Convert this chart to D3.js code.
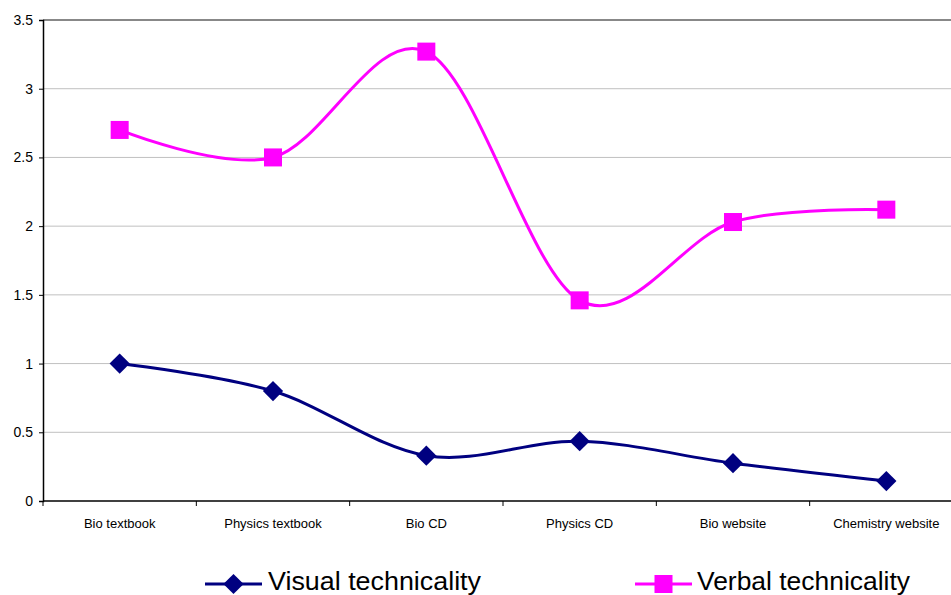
<!DOCTYPE html>
<html><head><meta charset="utf-8">
<script src="https://cdn.jsdelivr.net/npm/d3@7"></script>
<style>body{margin:0;background:#fff;}svg{display:block;font-family:"Liberation Sans",Arial,sans-serif;}</style>
</head><body>
<svg id="c" width="951" height="595"></svg>
<script>
const categories = ["Bio textbook","Physics textbook","Bio CD","Physics CD","Bio website","Chemistry website"];
const visual = [1.0, 0.8, 0.33, 0.435, 0.275, 0.145];
const verbal = [2.7, 2.5, 3.27, 1.46, 2.03, 2.12];
const yTicks = [0, 0.5, 1, 1.5, 2, 2.5, 3, 3.5];
const seriesNames = ["Visual technicality","Verbal technicality"];

(function () {
const svg = d3.select("#c");
const mLeft = 43, mRight = 963, mTop = 20, mBottom = 501;
const x = d3.scaleBand().domain(categories).range([mLeft, mRight]);
const y = d3.scaleLinear().domain([0, 3.5]).range([mBottom, mTop]);

// gridlines
svg.append("g").selectAll("line").data(yTicks.filter(d => d > 0)).join("line")
  .attr("x1", mLeft).attr("x2", mRight).attr("y1", d => y(d)).attr("y2", d => y(d))
  .attr("stroke", d => d === 3.5 ? "#888" : "#c0c0c0").attr("stroke-width", d => d === 3.5 ? 2 : 1);

// y axis
const ya = svg.append("g").attr("transform", `translate(${mLeft},0)`)
  .call(d3.axisLeft(y).tickValues(yTicks).tickSize(4).tickPadding(6).tickFormat(d3.format("")));
ya.select(".domain").attr("stroke", "#000").attr("stroke-width", 1.5);
ya.selectAll("text").attr("font-size", 14).attr("fill", "#000").attr("font-family", "Liberation Sans, Arial, sans-serif");

// x axis
const xa = svg.append("g").attr("transform", `translate(0,${mBottom})`);
xa.append("line").attr("x1", mLeft).attr("x2", mRight).attr("stroke", "#000").attr("stroke-width", 1.5);
const bounds = categories.map(c => x(c)).concat([mRight]);
xa.selectAll("line.tk").data(bounds).join("line").attr("class", "tk")
  .attr("x1", d => d).attr("x2", d => d).attr("y1", 0).attr("y2", 5).attr("stroke", "#000");
xa.selectAll("text").data(categories).join("text")
  .attr("x", d => x(d) + x.bandwidth() / 2).attr("y", 27)
  .attr("text-anchor", "middle").attr("font-size", 13).text(d => d);

const cx = d => x(d) + x.bandwidth() / 2;
const line = d3.line().x((d, i) => cx(categories[i])).y(d => y(d)).curve(d3.curveCardinal.tension(0));

const colors = ["#000080", "#ff00ff"];
[visual, verbal].forEach((s, k) => {
  svg.append("path").attr("d", line(s)).attr("fill", "none").attr("stroke", colors[k]).attr("stroke-width", 3);
});
const diamondPath = d3.symbol().type(d3.symbolSquare).size(205)();
svg.append("g").selectAll("path").data(visual).join("path")
  .attr("d", diamondPath)
  .attr("transform", (d, i) => `translate(${cx(categories[i])},${y(d)}) rotate(45)`)
  .attr("fill", colors[0]);
svg.append("g").selectAll("rect").data(verbal).join("rect")
  .attr("x", (d, i) => cx(categories[i]) - 9).attr("y", d => y(d) - 9)
  .attr("width", 18).attr("height", 18).attr("fill", colors[1]);

// legend
const ly = 584;
const leg = [{x1: 205, x2: 262, tx: 268, tw: 213}, {x1: 635, x2: 692, tx: 697, tw: 213}];
leg.forEach((l, k) => {
  const g = svg.append("g");
  g.append("line").attr("x1", l.x1).attr("x2", l.x2).attr("y1", ly).attr("y2", ly).attr("stroke", colors[k]).attr("stroke-width", 3);
  const mx = (l.x1 + l.x2) / 2;
  if (k === 0) {
    g.append("path").attr("d", diamondPath).attr("transform", `translate(${mx},${ly}) rotate(45)`).attr("fill", colors[0]);
  } else {
    g.append("rect").attr("x", mx - 9).attr("y", ly - 9).attr("width", 18).attr("height", 18).attr("fill", colors[1]);
  }
  g.append("text").attr("x", l.tx).attr("y", 590).attr("font-size", 26).attr("textLength", l.tw).attr("lengthAdjust", "spacingAndGlyphs").text(seriesNames[k]);
});
})();
</script>
</body></html>
